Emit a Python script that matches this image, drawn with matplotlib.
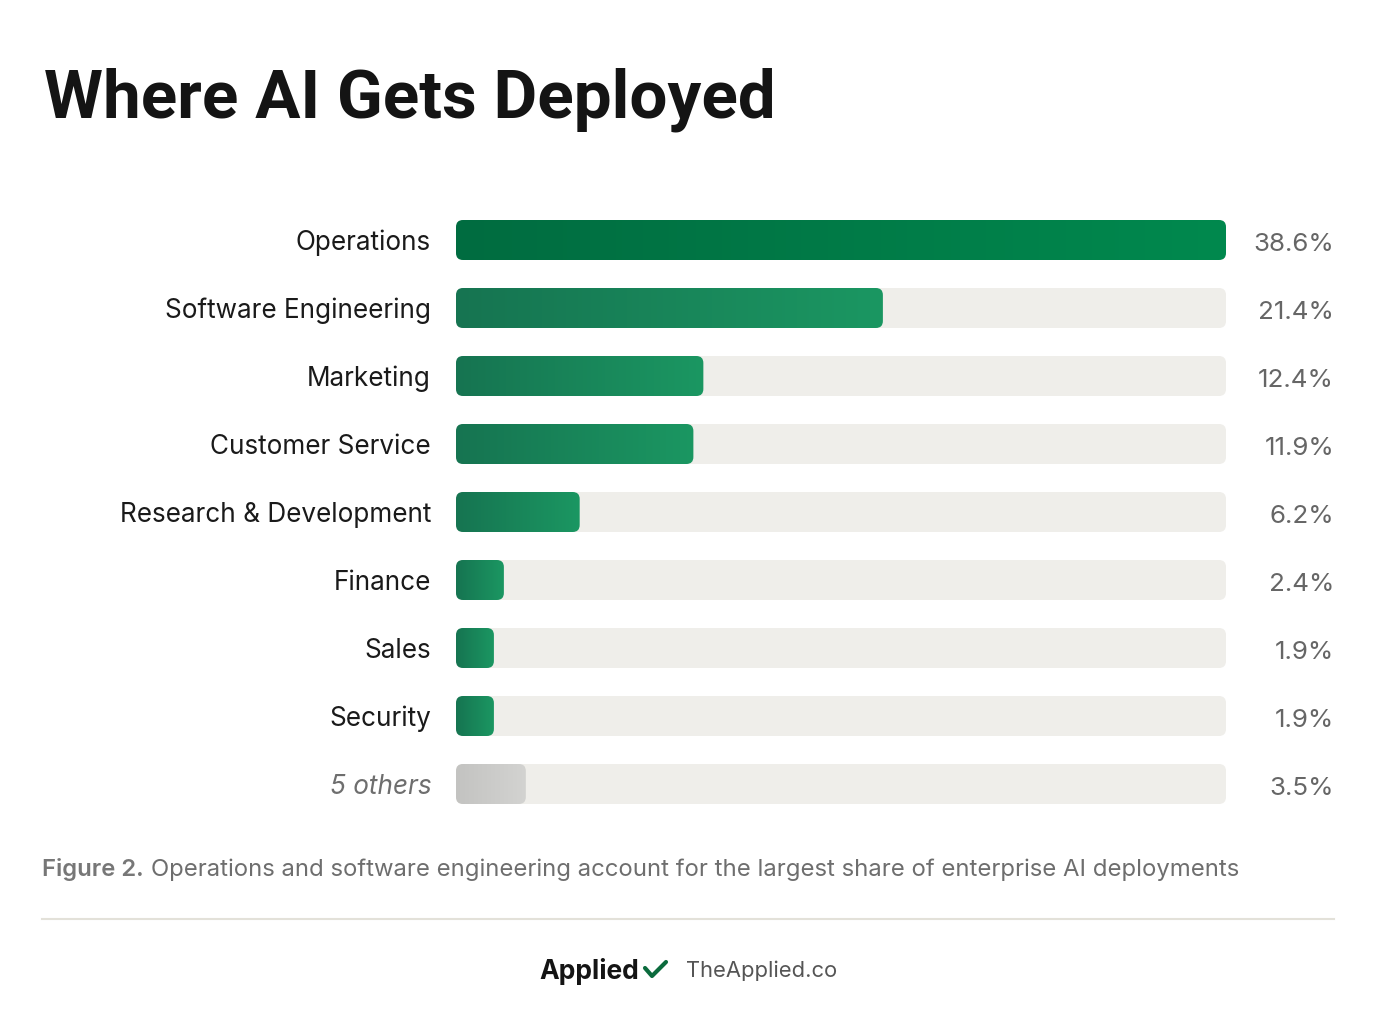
import numpy as np
import matplotlib
matplotlib.use("Agg")
import matplotlib.pyplot as plt
from matplotlib.patches import FancyBboxPatch
from matplotlib.colors import to_rgb
from matplotlib.lines import Line2D

plt.rcParams['font.family'] = ['Inter', 'DejaVu Sans']

# data
categories = ["Operations", "Software Engineering", "Marketing", "Customer Service",
              "Research & Development", "Finance", "Sales", "Security", "5 others"]
shares = [38.6, 21.4, 12.4, 11.9, 6.2, 2.4, 1.9, 1.9, 3.5]
value_labels = ["38.6%", "21.4%", "12.4%", "11.9%", "6.2%", "2.4%", "1.9%", "1.9%", "3.5%"]

title = "Where AI Gets Deployed"
caption_head = "Figure 2."
caption_body = "Operations and software engineering account for the largest share of enterprise AI deployments"

W, H = 1380, 1032
fig = plt.figure(figsize=(W / 100, H / 100), dpi=100)
fig.patch.set_facecolor("white")


def fx(px):
    return px / W


def fy(py):
    return 1 - py / H


# bar area: track runs 456..1226 px, rows every 68 px starting at 240
n = len(categories)
row_h = 68
top = 240 - row_h / 2
ax = fig.add_axes([fx(456), fy(top + n * row_h), fx(1226) - fx(456), n * row_h / H])
ax.axis("off")

bar_h = 40 / row_h
xu = max(shares) / 770.0      # x units per px
yu = 1.0 / row_h              # y units per px
aspect = yu / xu
rad = 7 * xu

track_color = "#EFEEEA"
for i, (cat, v) in enumerate(zip(categories, shares)):
    y0 = i - bar_h / 2
    track = FancyBboxPatch((0, y0), max(shares), bar_h,
                           boxstyle=f"round,pad=0,rounding_size={rad}",
                           mutation_aspect=aspect, fc=track_color, ec="none", zorder=1)
    ax.add_patch(track)

    if i == 0:
        c0, c1 = "#006C40", "#00894E"
    elif cat == "5 others":
        c0, c1 = "#C3C3C1", "#D3D3D1"
    else:
        c0, c1 = "#167451", "#1B9762"
    bar = FancyBboxPatch((0, y0), v, bar_h,
                         boxstyle=f"round,pad=0,rounding_size={rad}",
                         mutation_aspect=aspect, fc="none", ec="none", zorder=2)
    ax.add_patch(bar)
    t = np.linspace(0, 1, 256)[None, :, None]
    grad = (1 - t) * np.array(to_rgb(c0)) + t * np.array(to_rgb(c1))
    im = ax.imshow(grad, extent=(0, v, i + bar_h / 2, i - bar_h / 2),
                   aspect="auto", interpolation="bilinear", zorder=2)
    im.set_clip_path(bar)

    # category label
    if cat == "5 others":
        fig.text(fx(432), fy(240 + i * row_h), cat, ha="right", va="center_baseline",
                 fontsize=18.8, color="#6E6E6E", style="italic")
    else:
        fig.text(fx(431), fy(240 + i * row_h), cat, ha="right", va="center_baseline",
                 fontsize=18.8, color="#1A1A1A")
    fig.text(fx(1334), fy(242 + i * row_h), value_labels[i], ha="right", va="center_baseline",
             fontsize=18.7, color="#666666")

ax.set_xlim(0, max(shares))
ax.set_ylim(n - 0.5, -0.5)

# title
fig.text(fx(44), fy(117), title, ha="left", va="baseline", fontsize=48.5,
         fontweight="bold", color="#141414", family=["Roboto", "DejaVu Sans"])

# caption
renderer = fig.canvas.get_renderer()
head = fig.text(fx(42), fy(876), caption_head, ha="left", va="baseline",
                fontsize=17.2, fontweight="semibold", color="#777777")
bb = head.get_window_extent(renderer)
fig.text(bb.x1 / W + fx(7), fy(876), caption_body, ha="left", va="baseline",
         fontsize=17.2, color="#6E6E6E")

# separator
fig.add_artist(Line2D([fx(42), fx(1334)], [fy(919), fy(919)], color="#E3E1D9", lw=1.5))

# footer
fig.text(fx(539), fy(979), "Applied", ha="left", va="baseline", fontsize=19,
         fontweight="bold", color="#141414")
fig.add_artist(Line2D([fx(645), fx(652), fx(666)], [fy(968), fy(976), fy(962)],
                      color="#0B6B3D", lw=3, solid_capstyle="round", solid_joinstyle="round"))
fig.text(fx(686), fy(977), "TheApplied.co", ha="left", va="baseline", fontsize=15.8,
         color="#555555")

fig.savefig("out.png", dpi=100, facecolor="white")
